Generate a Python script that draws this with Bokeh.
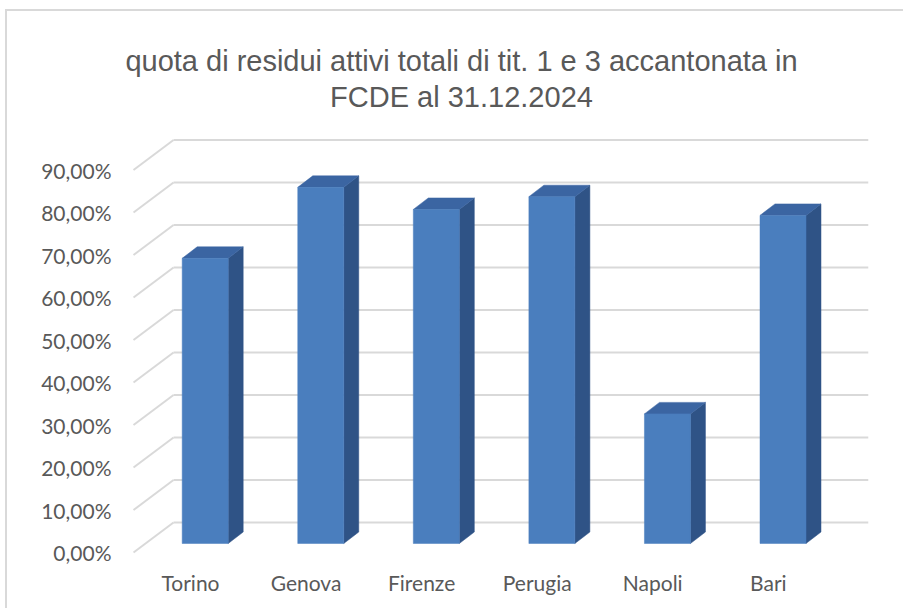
from bokeh.plotting import figure
from bokeh.models import Range1d, FixedTicker
from bokeh.core.properties import value
from bokeh.embed import file_html
from bokeh.resources import INLINE

# ---------------- data ----------------
categories = ["Torino", "Genova", "Firenze", "Perugia", "Napoli", "Bari"]
values = [67.1, 83.8, 78.6, 81.6, 30.5, 77.2]          # percent
y_ticks = [0, 10, 20, 30, 40, 50, 60, 70, 80, 90]
y_tick_labels = ["0,00%", "10,00%", "20,00%", "30,00%", "40,00%",
                 "50,00%", "60,00%", "70,00%", "80,00%", "90,00%"]
title_lines = ["quota di residui attivi totali di tit. 1 e 3 accantonata in",
               "FCDE al 31.12.2024"]

# ---------------- style constants (3D projection / layout) ----------------
PX_X = 115.56            # px per category
PX_Y = 4.25              # px per percent
X0_PX = 190.0            # page x of category 0 (front plane)
Y0_PX = 552.0            # page y of 0% (front plane)
wall_dx = 40 / PX_X      # depth of the back wall
wall_dy = 30 / PX_Y
wall_x0 = -0.493         # front-left corner of side wall
wall_x1 = 5.865          # right end of back wall
bar_shift_x = 14.7 / PX_X
bar_base = 9 / PX_Y
bar_half = 23 / PX_X
side_dx = 15 / PX_X
side_dy = 11.5 / PX_Y

# page geometry of the frame
FRAME_L, FRAME_R, FRAME_T, FRAME_B = 125, 890, 20, 565
CANVAS_X, CANVAS_Y = 7, 11
W, H = 898, 599
title_center_px = 461
title_baselines_px = [60, 96]

GRID = "#d9d9d9"
FRONT = "#4a7ebe"
SIDE = "#2f5386"
TOP = "#3b65a2"
TXT = "#595959"

def px_to_x(px):
    return (px - X0_PX) / PX_X

def px_to_y(py):
    return (Y0_PX - py) / PX_Y

p = figure(width=W, height=H, output_backend="svg", toolbar_location=None,
           x_range=Range1d(px_to_x(FRAME_L), px_to_x(FRAME_R)),
           y_range=Range1d(px_to_y(FRAME_B), px_to_y(FRAME_T)),
           min_border_left=FRAME_L - CANVAS_X, min_border_right=W - (FRAME_R - CANVAS_X),
           min_border_top=FRAME_T - CANVAS_Y, min_border_bottom=H - (FRAME_B - CANVAS_Y),
           background_fill_color="white", border_fill_color="white",
           outline_line_color=None)
p.styles = {"border-left": "2px solid #d9d9d9", "border-top": "2px solid #d9d9d9",
            "margin-left": "5px", "margin-top": "9px"}
p.xgrid.visible = False
p.ygrid.visible = False

# title (two centred lines)
p.text(x=[px_to_x(title_center_px)] * len(title_lines),
       y=[px_to_y(b) for b in title_baselines_px], text=title_lines,
       text_align="center", text_baseline="alphabetic",
       text_font=value("Liberation Sans"), text_font_size="29px",
       text_color=TXT)

# gridlines: side-wall diagonals and back-wall lines
p.segment(x0=[wall_x0] * len(y_ticks), y0=y_ticks,
          x1=[wall_x0 + wall_dx] * len(y_ticks), y1=[v + wall_dy for v in y_ticks],
          line_color=GRID, line_width=2)
p.segment(x0=[wall_x0 + wall_dx] * len(y_ticks), y0=[v + wall_dy for v in y_ticks],
          x1=[wall_x1] * len(y_ticks), y1=[v + wall_dy for v in y_ticks],
          line_color=GRID, line_width=2)

# 3D bars
xl, xr, tops = [], [], []
for i, v in enumerate(values):
    c = i + bar_shift_x
    xl.append(c - bar_half)
    xr.append(c + bar_half)
    tops.append(bar_base + v)

side_xs = [[r, r + side_dx, r + side_dx, r] for r in xr]
side_ys = [[bar_base, bar_base + side_dy, t + side_dy, t] for t in tops]
top_xs = [[l, l + side_dx, r + side_dx, r] for l, r in zip(xl, xr)]
top_ys = [[t, t + side_dy, t + side_dy, t] for t in tops]

p.patches(side_xs, side_ys, fill_color=SIDE, line_color=SIDE, line_width=0.5)
p.patches(top_xs, top_ys, fill_color=TOP, line_color=TOP, line_width=0.5)
p.quad(left=xl, right=xr, bottom=[bar_base] * len(values), top=tops,
       fill_color=FRONT, line_color=FRONT, line_width=0.5)

# axes
p.xaxis.ticker = FixedTicker(ticks=list(range(len(categories))))
p.xaxis.major_label_overrides = {i: c for i, c in enumerate(categories)}
p.yaxis.ticker = FixedTicker(ticks=y_ticks)
p.yaxis.major_label_overrides = {t: l for t, l in zip(y_ticks, y_tick_labels)}
for ax in (p.xaxis, p.yaxis):
    ax.axis_line_color = None
    ax.major_tick_line_color = None
    ax.minor_tick_line_color = None
    ax.major_tick_in = 0
    ax.major_tick_out = 0
    ax.major_label_text_font = "Lato"
    ax.major_label_text_font_size = "21px"
    ax.major_label_text_color = TXT
p.yaxis.major_label_standoff = 14
p.xaxis.major_label_standoff = 4

open("out.html", "w").write(file_html(p, INLINE))
